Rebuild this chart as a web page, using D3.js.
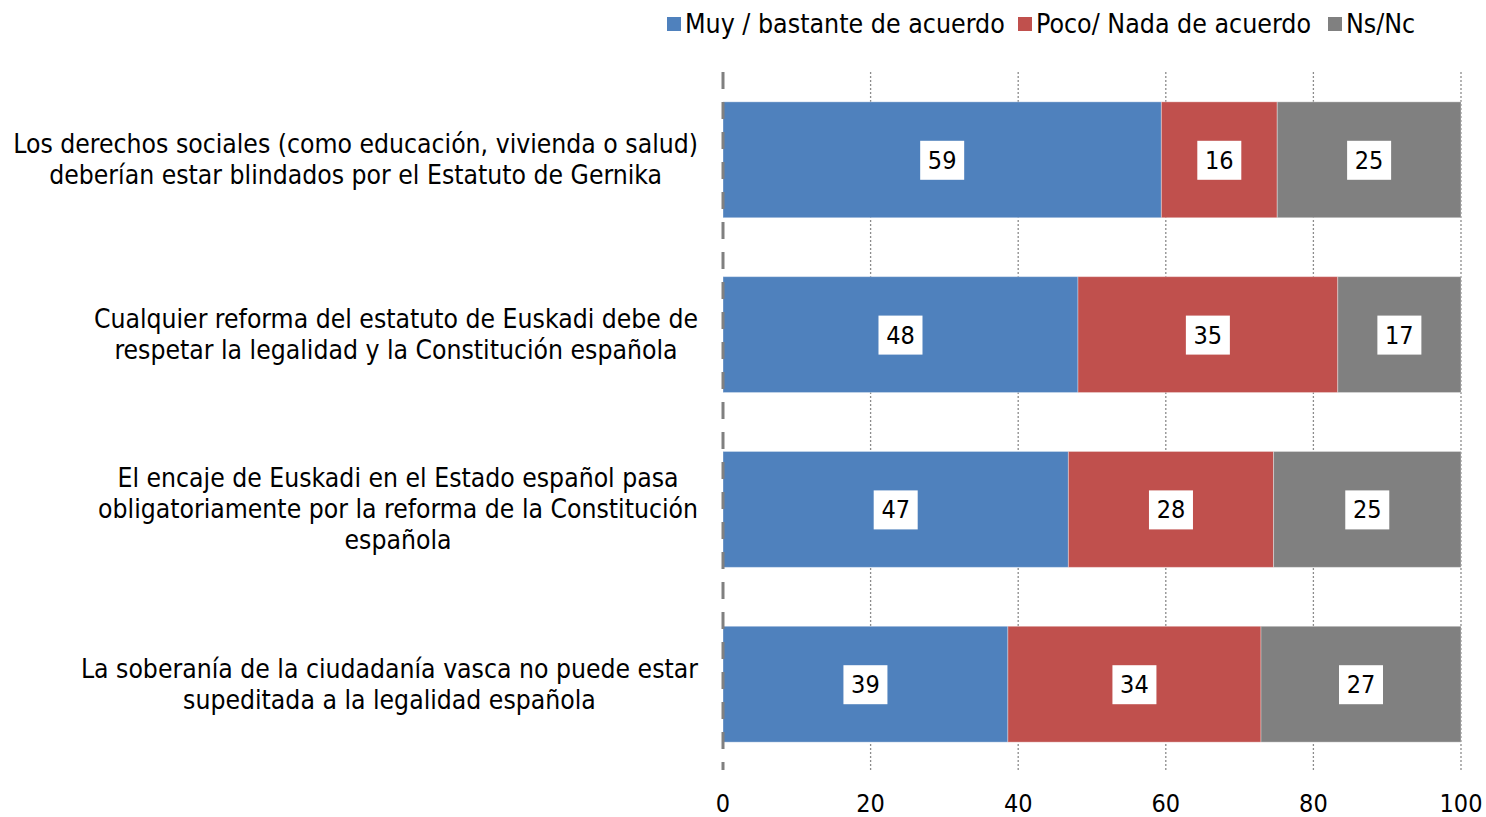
<!DOCTYPE html>
<html><head><meta charset="utf-8">
<script src="https://cdn.jsdelivr.net/npm/d3@7"></script>
<style>body{margin:0;background:#fff}svg{display:block}text{font-family:"DejaVu Sans Condensed","DejaVu Sans",sans-serif;font-stretch:condensed;fill:#000}</style>
</head><body><svg id="c" width="1486" height="817"></svg>
<script>
const categories = [
  ["Los derechos sociales (como educación, vivienda o salud)", "deberían estar blindados por el Estatuto de Gernika"],
  ["Cualquier reforma del estatuto de Euskadi debe de", "respetar la legalidad y la Constitución española"],
  ["El encaje de Euskadi en el Estado español pasa", "obligatoriamente por la reforma de la Constitución", "española"],
  ["La soberanía de la ciudadanía vasca no puede estar", "supeditada a la legalidad española"]
];
const seriesNames = ["Muy / bastante de acuerdo", "Poco/ Nada de acuerdo", "Ns/Nc"];
const muy = [59.4, 48.1, 46.8, 38.6];
const poco = [15.7, 35.2, 27.8, 34.3];
const nsnc = [24.9, 16.7, 25.4, 27.1];
const xTicks = [0, 20, 40, 60, 80, 100];
const colors = ["#4F81BD", "#C0504D", "#808080"];

(function(){
const svg = d3.select("#c");
const pl = 723, pr = 1461, pt = 72, pb = 770;
const x = d3.scaleLinear().domain([0, 100]).range([pl, pr]);
const y = d3.scaleBand().domain(d3.range(categories.length)).range([pt+1, pb+1]).paddingInner(0.337).paddingOuter(0.165);

svg.append("g").selectAll("line").data(xTicks.filter(d => d > 0)).join("line")
  .attr("x1", d => x(d)).attr("x2", d => x(d)).attr("y1", pt).attr("y2", pb)
  .attr("stroke", "#8c8c8c").attr("stroke-width", 1.3).attr("stroke-dasharray", "2,2");

const rows = categories.map((c, i) => [muy[i], poco[i], nsnc[i]]);
const g = svg.append("g");
rows.forEach((vals, i) => {
  let acc = 0;
  vals.forEach((v, j) => {
    const x0 = x(acc), x1 = x(acc + v);
    g.append("rect").attr("x", x0).attr("y", y(i)).attr("width", x1 - x0).attr("height", y.bandwidth())
      .attr("fill", colors[j]).attr("stroke", "rgba(255,255,255,0.35)").attr("stroke-width", 1);
    const cx = (x0 + x1) / 2, cy = y(i) + y.bandwidth() / 2;
    const lbl = String(Math.round(v));
    g.append("rect").attr("x", cx - 22).attr("y", cy - 19).attr("width", 44).attr("height", 39).attr("fill", "#fff");
    g.append("text").attr("x", cx).attr("y", cy + 9).attr("text-anchor", "middle").attr("font-size", 25).text(lbl);
    acc += v;
  });
});

svg.append("line").attr("x1", pl).attr("x2", pl).attr("y1", pt).attr("y2", pb)
  .attr("stroke", "#808080").attr("stroke-width", 3).attr("stroke-dasharray", "17,13");

svg.append("g").selectAll("text").data(xTicks).join("text")
  .attr("x", d => x(d)).attr("y", 812).attr("text-anchor", "middle").attr("font-size", 25).text(d => d);

const labelRight = 698;
categories.forEach((lines, i) => {
  const cy = y(i) + y.bandwidth() / 2;
  const lh = 31;
  const start = cy - (lines.length - 1) * lh / 2;
  const t = svg.append("text").attr("text-anchor", "middle").attr("font-size", 26.3);
  const spans = lines.map((ln, k) => t.append("tspan").attr("x", 0).attr("y", start + k * lh + 9).text(ln));
  const maxW = d3.max(spans, s => s.node().getComputedTextLength());
  spans.forEach(s => s.attr("x", labelRight - maxW / 2));
});

const legX = [667, 1018, 1328];
seriesNames.forEach((s, j) => {
  svg.append("rect").attr("x", legX[j]).attr("y", 17).attr("width", 14).attr("height", 14).attr("fill", colors[j]);
  svg.append("text").attr("x", legX[j] + 18).attr("y", 33).attr("font-size", 26.5).text(s);
});
})();
</script></body></html>
